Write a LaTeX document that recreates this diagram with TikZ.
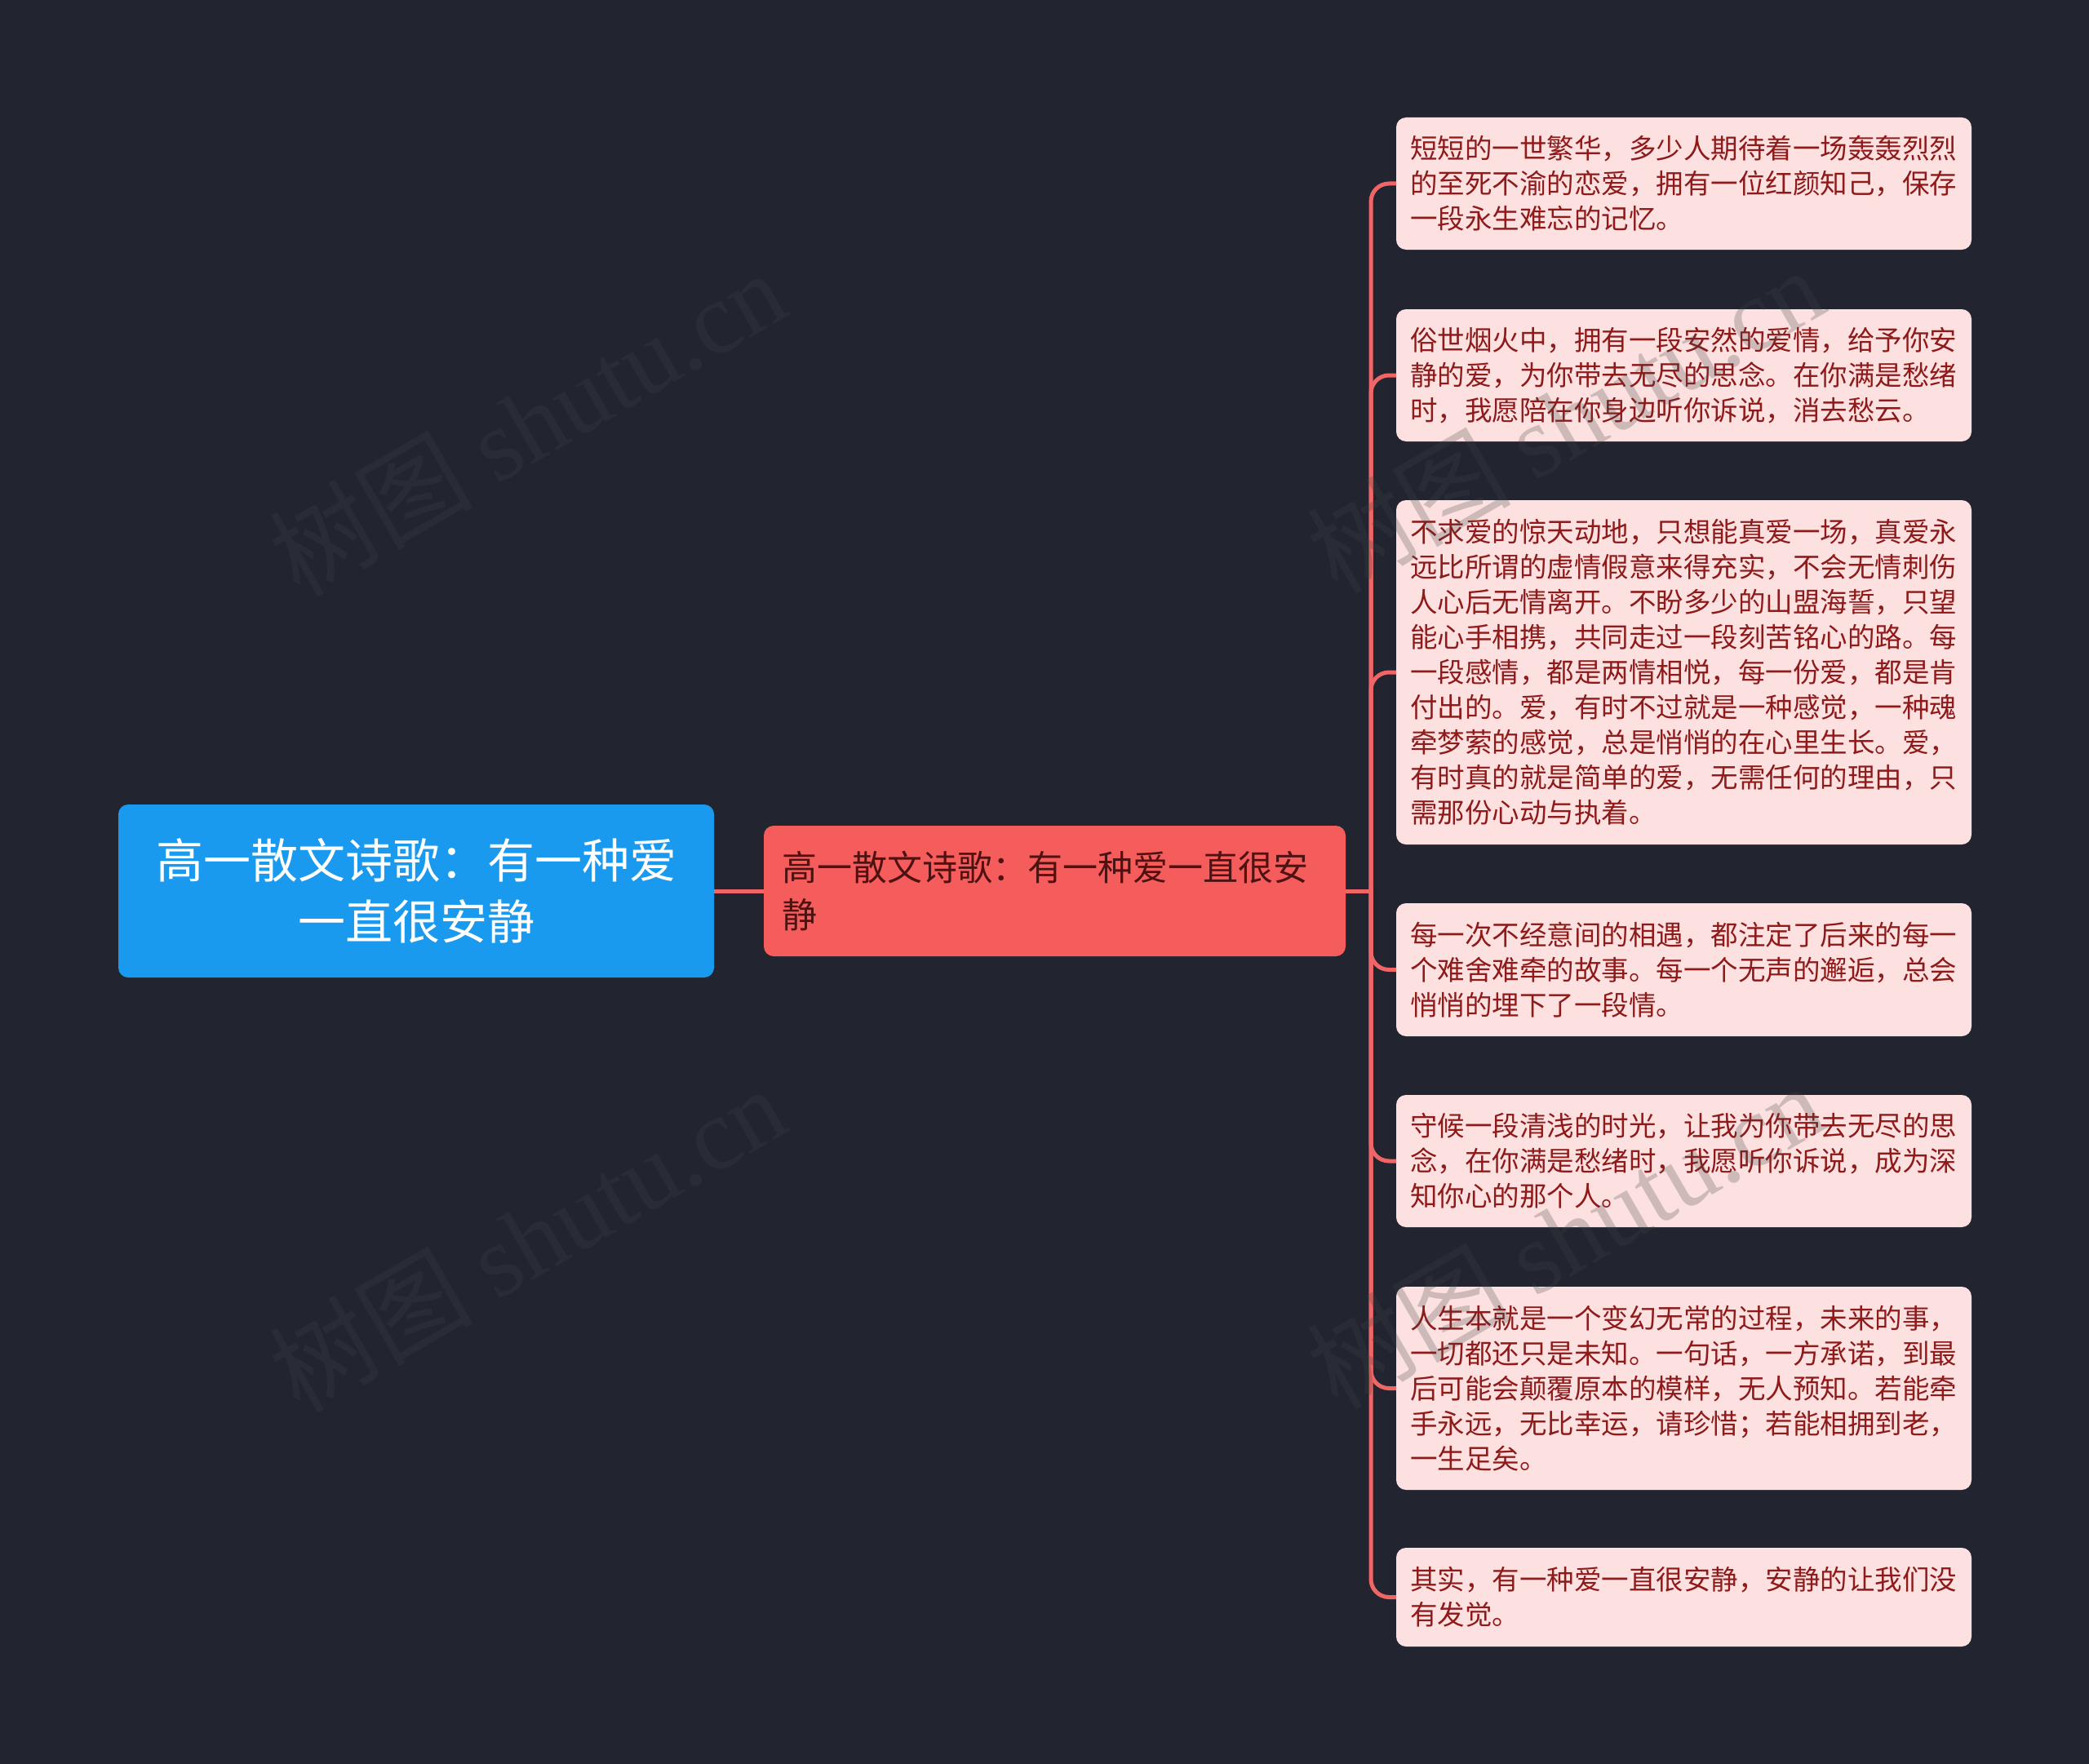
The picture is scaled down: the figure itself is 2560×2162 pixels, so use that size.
\documentclass[tikz,border=0pt]{standalone}
\usepackage{fontspec}
\setmainfont{Noto Sans CJK SC}
\newfontfamily\cjkfont{Noto Sans CJK SC}
\newfontfamily\wmfont{Liberation Serif}
\definecolor{bgc}{HTML}{222530}
\definecolor{rootfill}{HTML}{1A9AEF}
\definecolor{midfill}{HTML}{F55C5C}
\definecolor{midtext}{HTML}{4F1212}
\definecolor{leaffill}{HTML}{FDE1E1}
\definecolor{leaftext}{HTML}{8E1A1A}
\definecolor{edgec}{HTML}{F06565}
\definecolor{wmc}{HTML}{444444}
\begin{document}
\begin{tikzpicture}[x=1pt,y=-1pt,
  rootbox/.style={rectangle, rounded corners=12pt, fill=rootfill, text=white, inner sep=0pt,
    minimum width=730pt, minimum height=212pt, align=center,
    font=\fontsize{58}{75}\selectfont},
  midbox/.style={rectangle, rounded corners=12pt, fill=midfill, text=midtext, inner sep=0pt,
    minimum width=713pt, minimum height=160pt, text width=669pt, align=left,
    font=\fontsize{43}{58}\selectfont},
  leaf/.style={rectangle, rounded corners=12pt, fill=leaffill, text=leaftext, inner sep=0pt,
    minimum width=705pt, text width=671pt, align=left,
    font=\fontsize{33.5}{43}\selectfont},
  edge/.style={draw=edgec, line width=5pt},
  wm/.style={text=wmc, opacity=0.25, rotate=30, inner sep=0pt, font=\fontsize{125}{125}\selectfont}
]
\fill[bgc] (0,0) rectangle (2560,2162);
\useasboundingbox (0,0) rectangle (2560,2162);

\node[rootbox] (root) at (510,1092) {高一散文诗歌：有一种爱\\一直很安静};
\node[midbox] (mid) at (1292.5,1092) {高一散文诗歌：有一种爱一直很安\\静};

\node[leaf, minimum height=162pt] (l1) at (2063.5,225) {短短的一世繁华，多少人期待着一场轰轰烈烈\\的至死不渝的恋爱，拥有一位红颜知己，保存\\一段永生难忘的记忆。};
\node[leaf, minimum height=162pt] (l2) at (2063.5,460) {俗世烟火中，拥有一段安然的爱情，给予你安\\静的爱，为你带去无尽的思念。在你满是愁绪\\时，我愿陪在你身边听你诉说，消去愁云。};
\node[leaf, minimum height=422pt] (l3) at (2063.5,824) {不求爱的惊天动地，只想能真爱一场，真爱永\\远比所谓的虚情假意来得充实，不会无情刺伤\\人心后无情离开。不盼多少的山盟海誓，只望\\能心手相携，共同走过一段刻苦铭心的路。每\\一段感情，都是两情相悦，每一份爱，都是肯\\付出的。爱，有时不过就是一种感觉，一种魂\\牵梦萦的感觉，总是悄悄的在心里生长。爱，\\有时真的就是简单的爱，无需任何的理由，只\\需那份心动与执着。};
\node[leaf, minimum height=163pt] (l4) at (2063.5,1188.5) {每一次不经意间的相遇，都注定了后来的每一\\个难舍难牵的故事。每一个无声的邂逅，总会\\悄悄的埋下了一段情。};
\node[leaf, minimum height=162pt] (l5) at (2063.5,1423) {守候一段清浅的时光，让我为你带去无尽的思\\念，在你满是愁绪时，我愿听你诉说，成为深\\知你心的那个人。};
\node[leaf, minimum height=249pt] (l6) at (2063.5,1701.5) {人生本就是一个变幻无常的过程，未来的事，\\一切都还只是未知。一句话，一方承诺，到最\\后可能会颠覆原本的模样，无人预知。若能牵\\手永远，无比幸运，请珍惜；若能相拥到老，\\一生足矣。};
\node[leaf, minimum height=121pt] (l7) at (2063.5,1957.5) {其实，有一种爱一直很安静，安静的让我们没\\有发觉。};

\coordinate (j) at (1680,1092);
\draw[edge] (root.east) -- (mid.west);
\draw[edge] (mid.east) -- (j);
\foreach \n in {l1,l2,l3,l4,l5,l6,l7}{
  \draw[edge, rounded corners=22pt] (j) |- (\n.west);
}

\node[wm] (w1) at (646,518) {{\cjkfont 树图} {\wmfont shutu.cn}};
\node[wm] (w2) at (646,1518) {{\cjkfont 树图} {\wmfont shutu.cn}};
\node[wm] (w3) at (1918,514) {{\cjkfont 树图} {\wmfont shutu.cn}};
\node[wm] (w4) at (1918,1514) {{\cjkfont 树图} {\wmfont shutu.cn}};
\end{tikzpicture}
\end{document}
